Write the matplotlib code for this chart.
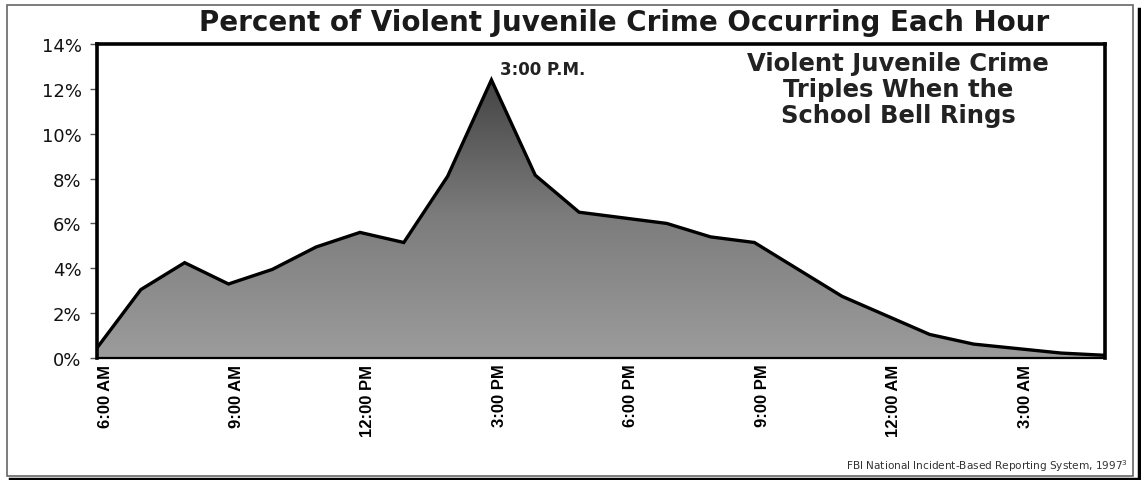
import numpy as np
import matplotlib
matplotlib.use("Agg")
import matplotlib.pyplot as plt
import matplotlib.transforms as mtrans
from matplotlib.patches import Polygon, Rectangle
from matplotlib.lines import Line2D
from matplotlib.colors import LinearSegmentedColormap

hours = ["6:00 AM", "7:00 AM", "8:00 AM", "9:00 AM", "10:00 AM", "11:00 AM",
         "12:00 PM", "1:00 PM", "2:00 PM", "3:00 PM", "4:00 PM", "5:00 PM",
         "6:00 PM", "7:00 PM", "8:00 PM", "9:00 PM", "10:00 PM", "11:00 PM",
         "12:00 AM", "1:00 AM", "2:00 AM", "3:00 AM", "4:00 AM", "5:00 AM"]
percent = [0.45, 3.05, 4.25, 3.3, 3.95, 4.95, 5.6, 5.15, 8.1, 12.4, 8.15, 6.5,
           6.25, 6.0, 5.4, 5.15, 3.95, 2.75, 1.9, 1.05, 0.62, 0.42, 0.22, 0.12]
label_hours = ["6:00 AM", "9:00 AM", "12:00 PM", "3:00 PM", "6:00 PM",
               "9:00 PM", "12:00 AM", "3:00 AM"]
yticks = [0, 2, 4, 6, 8, 10, 12, 14]

W, H = 1141, 481
fig = plt.figure(figsize=(W / 100, H / 100), dpi=100)
fig.patch.set_facecolor("white")

L, R, T, B = 97, 1105, 45, 359
ax = fig.add_axes([L / W, 1 - B / H, (R - L) / W, (B - T) / H])

x = np.arange(len(hours))
y = np.array(percent)

# gradient fill clipped to area polygon
verts = [(x[0], 0)] + list(zip(x, y)) + [(x[-1], 0)]
poly = Polygon(verts, closed=True, facecolor="none", edgecolor="none")
ax.add_patch(poly)
cmap = LinearSegmentedColormap.from_list(
    "g", [(0.0, "#9c9c9c"), (0.45, "#7c7c7c"), (1.0, "#363636")])
grad = np.linspace(0, 1, 256).reshape(-1, 1)
img = ax.imshow(grad, extent=[x[0], x[-1], 0, 14], origin="lower",
                aspect="auto", cmap=cmap, zorder=1, interpolation="bicubic")
img.set_clip_path(poly)

ax.plot(x, y, color="black", lw=2.4, zorder=3, solid_joinstyle="miter")

ax.set_xlim(x[0], x[-1])
ax.set_ylim(0, 14)

ax.set_yticks(yticks)
ax.set_yticklabels([f"{v}%" for v in yticks], fontsize=13,
                   family="DejaVu Sans", color="#111111")
ax.tick_params(axis="y", length=5, width=1, color="#555555", pad=6)

pos = [hours.index(h) for h in label_hours]
ax.set_xticks(pos)
ax.set_xticklabels(label_hours, rotation=90, fontsize=12,
                   family=["Liberation Sans Narrow", "Liberation Sans"],
                   fontweight="bold", va="top", ha="center")
ax.tick_params(axis="x", length=0, pad=4)
off = mtrans.ScaledTranslation(8 / 100, 0, fig.dpi_scale_trans)
for lab in ax.get_xticklabels():
    lab.set_transform(lab.get_transform() + off)

for s in ["left", "top", "right"]:
    ax.spines[s].set_linewidth(2.6)
    ax.spines[s].set_color("black")
ax.spines["bottom"].set_linewidth(1.6)
ax.spines["bottom"].set_color("black")
ax.set_zorder(2)

ax.text(9.2, 12.9, "3:00 P.M.", fontsize=12, fontweight="bold",
        family="DejaVu Sans", color="#222222", ha="left", va="center")

fig.text(898 / W, 1 - 90 / H,
         "Violent Juvenile Crime\nTriples When the\nSchool Bell Rings",
         fontsize=17.5, fontweight="bold", family="DejaVu Sans", color="#222222",
         ha="center", va="center", linespacing=1.1)

fig.text(624 / W, 1 - 23 / H,
         "Percent of Violent Juvenile Crime Occurring Each Hour",
         fontsize=20, fontweight="bold", family="DejaVu Sans", color="#1a1a1a",
         ha="center", va="center")

fig.text(1128 / W, 1 - 466 / H,
         "FBI National Incident-Based Reporting System, 1997$^{3}$",
         fontsize=7.6, family="DejaVu Sans", color="#333333",
         ha="right", va="center")

# outer frame with shadow
fig.add_artist(Rectangle((7 / W, 1 - 477 / H), (1133 - 7) / W, (477 - 6) / H,
                         transform=fig.transFigure, fill=False,
                         edgecolor="#666666", lw=1.2))
fig.add_artist(Line2D([10 / W, 1139 / W], [1 - 479.5 / H, 1 - 479.5 / H],
                      transform=fig.transFigure, color="black", lw=2.5))
fig.add_artist(Line2D([1138.5 / W, 1138.5 / W], [1 - 480 / H, 1 - 10 / H],
                      transform=fig.transFigure, color="black", lw=2.5))

fig.savefig("out.png", dpi=100, facecolor="white")
